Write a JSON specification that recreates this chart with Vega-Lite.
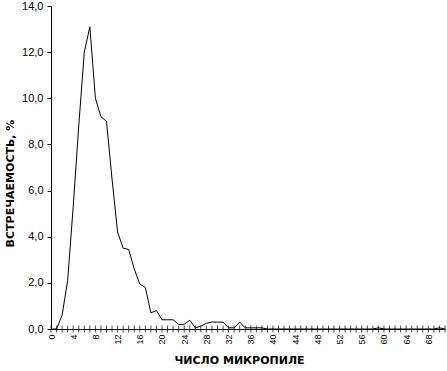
{
  "$schema": "https://vega.github.io/schema/vega-lite/v6.json",
  "width": 394,
  "height": 323,
  "autosize": {"type": "none"},
  "padding": {"left": 51, "top": 6, "right": 2, "bottom": 42},
  "background": "white",
  "config": {
    "view": {"stroke": null},
    "axis": {"grid": false, "domainColor": "black", "tickColor": "black", "labelColor": "black", "titleColor": "black", "labelFont": "Liberation Sans", "titleFont": "DejaVu Sans"}
  },
  "data": {
    "values": [
      {"k": 0, "v": 0}, {"k": 1, "v": 0}, {"k": 2, "v": 0.6}, {"k": 3, "v": 2.1},
      {"k": 4, "v": 5.3}, {"k": 5, "v": 8.8}, {"k": 6, "v": 12.0}, {"k": 7, "v": 13.1},
      {"k": 8, "v": 10.0}, {"k": 9, "v": 9.2}, {"k": 10, "v": 9.0}, {"k": 11, "v": 6.5},
      {"k": 12, "v": 4.2}, {"k": 13, "v": 3.5}, {"k": 14, "v": 3.45}, {"k": 15, "v": 2.6},
      {"k": 16, "v": 1.95}, {"k": 17, "v": 1.8}, {"k": 18, "v": 0.7}, {"k": 19, "v": 0.8},
      {"k": 20, "v": 0.4}, {"k": 21, "v": 0.4}, {"k": 22, "v": 0.4}, {"k": 23, "v": 0.2},
      {"k": 24, "v": 0.2}, {"k": 25, "v": 0.38}, {"k": 26, "v": 0.05}, {"k": 27, "v": 0.12},
      {"k": 28, "v": 0.25}, {"k": 29, "v": 0.3}, {"k": 30, "v": 0.3}, {"k": 31, "v": 0.3},
      {"k": 32, "v": 0.05}, {"k": 33, "v": 0.05}, {"k": 34, "v": 0.3}, {"k": 35, "v": 0.05},
      {"k": 36, "v": 0.05}, {"k": 37, "v": 0.05}, {"k": 38, "v": 0.05}, {"k": 39, "v": 0},
      {"k": 40, "v": 0}, {"k": 41, "v": 0}, {"k": 42, "v": 0}, {"k": 43, "v": 0},
      {"k": 44, "v": 0}, {"k": 45, "v": 0}, {"k": 46, "v": 0}, {"k": 47, "v": 0},
      {"k": 48, "v": 0}, {"k": 49, "v": 0}, {"k": 50, "v": 0}, {"k": 51, "v": 0},
      {"k": 52, "v": 0}, {"k": 53, "v": 0}, {"k": 54, "v": 0}, {"k": 55, "v": 0},
      {"k": 56, "v": 0}, {"k": 57, "v": 0}, {"k": 58, "v": 0}, {"k": 59, "v": 0.05},
      {"k": 60, "v": 0}, {"k": 61, "v": 0}, {"k": 62, "v": 0}, {"k": 63, "v": 0},
      {"k": 64, "v": 0}, {"k": 65, "v": 0}, {"k": 66, "v": 0}, {"k": 67, "v": 0},
      {"k": 68, "v": 0}, {"k": 69, "v": 0}, {"k": 70, "v": 0.05}, {"k": 71, "v": 0}
    ]
  },
  "encoding": {
    "x": {
      "field": "k", "type": "quantitative",
      "scale": {"domain": [0, 71], "nice": false, "zero": false},
      "axis": {
        "values": [0, 4, 8, 12, 16, 20, 24, 28, 32, 36, 40, 44, 48, 52, 56, 60, 64, 68],
        "ticks": false, "labelAngle": -90, "labelFontSize": 9, "labelPadding": 5,
        "labelAlign": "right", "labelBaseline": "middle", "labelFlush": false, "labelOverlap": false,
        "title": "ЧИСЛО МИКРОПИЛЕ", "titleFontSize": 11, "titleFontWeight": "bold",
        "titleX": 188, "titleY": 31, "titleBaseline": "middle", "titleAlign": "center"
      }
    }
  },
  "layer": [
    {
      "mark": {"type": "line", "color": "black", "strokeWidth": 1},
      "encoding": {
        "y": {
          "field": "v", "type": "quantitative",
          "scale": {"domain": [0, 14], "nice": false},
          "axis": {
            "values": [0, 2, 4, 6, 8, 10, 12, 14], "tickSize": 4, "labelPadding": 4,
            "labelFontSize": 11, "labelExpr": "replace(format(datum.value, '.1f'), '.', ',')",
            "labelFlush": false, "labelOverlap": false,
            "title": "ВСТРЕЧАЕМОСТЬ, %", "titleFontSize": 11, "titleFontWeight": "bold",
            "titleAngle": -90, "titleX": -41, "titleY": 177, "titleBaseline": "middle", "titleAlign": "center"
          }
        }
      }
    },
    {
      "mark": {"type": "tick", "color": "black", "thickness": 1, "size": 7, "orient": "vertical"},
      "encoding": {"y": {"datum": 0, "type": "quantitative"}}
    }
  ]
}
